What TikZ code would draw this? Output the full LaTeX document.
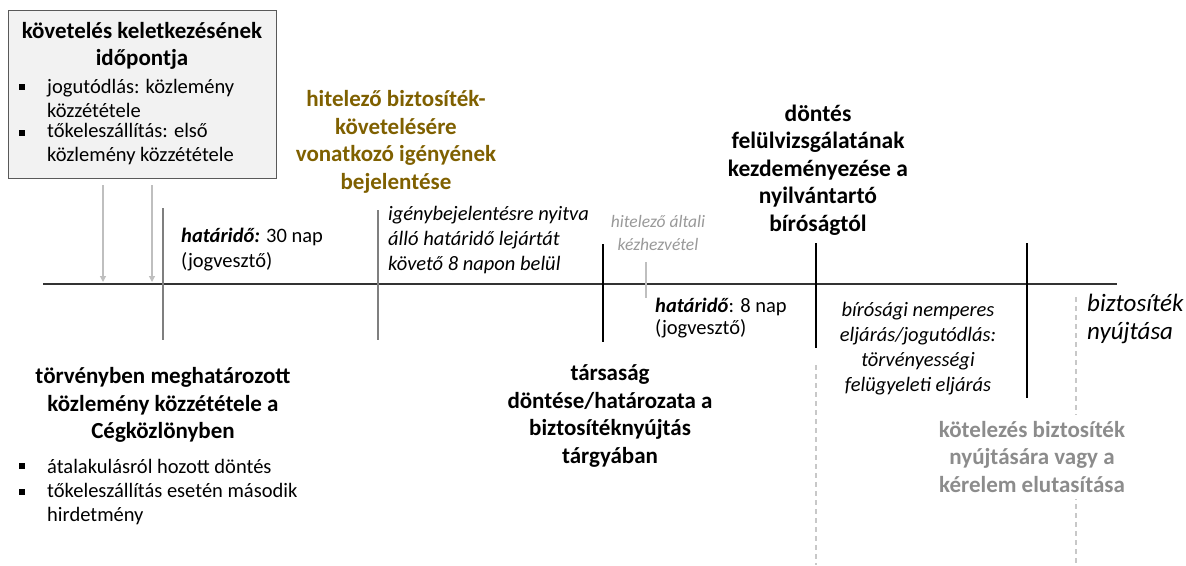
\documentclass[tikz,border=0pt]{standalone}
\usepackage{fontspec}
\setmainfont{Carlito}
\usetikzlibrary{arrows.meta}
\definecolor{olivetxt}{HTML}{7F6000}
\definecolor{boxfill}{HTML}{F2F2F2}
\definecolor{boxline}{HTML}{595959}
\definecolor{arrgray}{HTML}{BFBFBF}
\definecolor{tickgray}{HTML}{7F7F7F}
\definecolor{dashgray}{HTML}{C8C8C8}
\definecolor{lblgray}{HTML}{999999}
\definecolor{resgray}{HTML}{8C8C8C}
\newcommand\fsz[2]{\fontsize{#1}{#2}\selectfont}
\tikzset{
  txt/.style={inner sep=0pt, align=center},
  ltxt/.style={inner sep=0pt, align=left, anchor=west},
  boldtitle/.style={txt, font=\fsz{23}{27.5}\bfseries},
  bodytxt/.style={ltxt, font=\fsz{20.5}{24}},
  itxt/.style={font=\fsz{20.5}{25}\itshape},
  bul/.style={fill=black, minimum size=5.5pt, inner sep=0pt},
  tickblack/.style={black, line width=1.2pt},
  tickgr/.style={tickgray, line width=1.5pt},
  grayarrow/.style={arrgray, line width=1.2pt, -{Triangle[width=6pt,length=6pt]}},
  dashv/.style={dashgray, line width=1.5pt, dash pattern=on 5pt off 4pt},
}
\begin{document}
\begin{tikzpicture}[x=1pt,y=-1pt]
\useasboundingbox (0,0) rectangle (1186,565);

% top-left box
\node[draw=boxline, fill=boxfill, line width=1pt, minimum width=268pt, minimum height=168pt, anchor=north west, inner sep=0pt] (box) at (8,10) {};
\node[boldtitle] (boxhead) at (142,46) {követelés keletkezésének\\időpontja};
\node[bul] (b1) at (22,87) {};
\node[bodytxt] (b1t) at (47,98.5) {jogutódlás: közlemény\\közzététele};
\node[bul] (b2) at (22,133) {};
\node[bodytxt] (b2t) at (47,144.5) {tőkeleszállítás: első\\közlemény közzététele};

% gray arrows
\coordinate (a1s) at (103,185); \coordinate (a1e) at (103,282);
\coordinate (a2s) at (152,185); \coordinate (a2e) at (152,282);
\draw[grayarrow] (a1s) -- (a1e);
\draw[grayarrow] (a2s) -- (a2e);

% timeline
\coordinate (tl0) at (43,284); \coordinate (tl1) at (1117,284);
\draw[line width=1.3pt, black!80] (tl0) -- (tl1);

% ticks
\coordinate (t1a) at (163,208); \coordinate (t1b) at (163,340);
\coordinate (t2a) at (378,210); \coordinate (t2b) at (378,340);
\coordinate (t3a) at (603,244); \coordinate (t3b) at (603,342);
\coordinate (t4a) at (816,243); \coordinate (t4b) at (816,348);
\coordinate (t5a) at (1027,243); \coordinate (t5b) at (1027,398);
\coordinate (g1a) at (646,262); \coordinate (g1b) at (646,298);
\draw[tickgr] (t1a) -- (t1b);
\draw[tickgr] (t2a) -- (t2b);
\draw[tickblack] (t3a) -- (t3b);
\draw[tickblack] (t4a) -- (t4b);
\draw[tickblack] (t5a) -- (t5b);
\draw[arrgray, line width=1.5pt] (g1a) -- (g1b);

% dashed lines
\coordinate (d1a) at (816,365); \coordinate (d1b) at (816,565);
\coordinate (d2a) at (1076,297); \coordinate (d2b) at (1076,565);
\draw[dashv] (d1a) -- (d1b);
\draw[dashv] (d2a) -- (d2b);

% texts above timeline
\node[ltxt, font=\fsz{20.5}{25}] (hat30) at (181,249.5) {\textbf{\textit{határidő:}} 30 nap\\(jogvesztő)};
\node[boldtitle, text=olivetxt] (igeny) at (396,142) {hitelező biztosíték-\\követelésére\\vonatkozó igényének\\bejelentése};
\node[ltxt, itxt] (nyitva) at (388,240) {igénybejelentésre nyitva\\álló határidő lejártát\\követő 8 napon belül};
\node[txt, font=\fsz{17.5}{23}\itshape, text=lblgray] (kezhez) at (658,233) {hitelező általi\\kézhezvétel};
\node[boldtitle, font=\fsz{23.5}{27.5}\bfseries] (dontes) at (818,170) {döntés\\felülvizsgálatának\\kezdeményezése a\\nyilvántartó\\bíróságtól};

% texts below timeline
\node[ltxt, font=\fsz{20.5}{22}] (hat8) at (655,318) {\textbf{\textit{határidő}}: 8 nap\\(jogvesztő)};
\node[txt, itxt] (nemperes) at (918,349) {bírósági nemperes\\eljárás/jogutódlás:\\törvényességi\\felügyeleti eljárás};
\node[ltxt, font=\fsz{25}{28}\itshape] (nyujt) at (1087,319) {biztosíték\\nyújtása};
\node[boldtitle, text=resgray, fill=white, inner xsep=2pt, inner ysep=6pt] (kotel) at (1032,457) {kötelezés biztosíték\\nyújtására vagy a\\kérelem elutasítása};
\node[boldtitle] (torveny) at (163,405) {törvényben meghatározott\\közlemény közzététele a\\Cégközlönyben};
\node[bul] (b3) at (22,466) {};
\node[bodytxt] (b3t) at (47,466) {átalakulásról hozott döntés};
\node[bul] (b4) at (22,492) {};
\node[bodytxt] (b4t) at (47,504.5) {tőkeleszállítás esetén második\\hirdetmény};
\node[boldtitle] (tarsasag) at (610,416) {társaság\\döntése/határozata a\\biztosítéknyújtás\\tárgyában};
\end{tikzpicture}
\end{document}
